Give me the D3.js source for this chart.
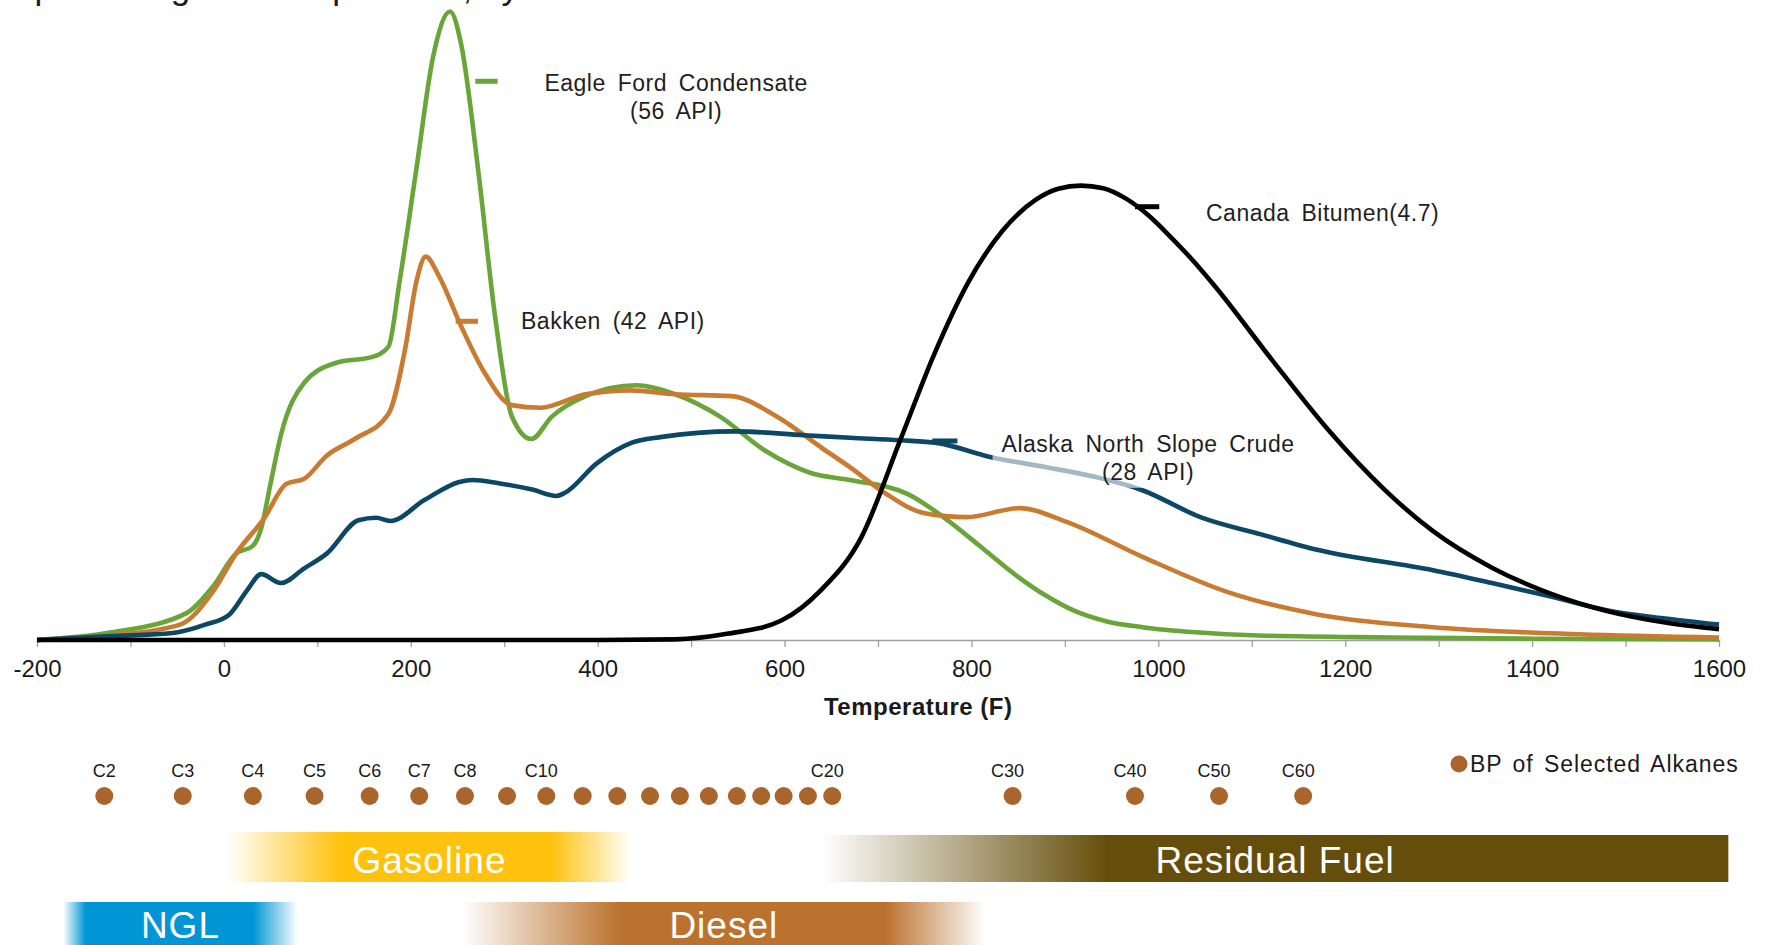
<!DOCTYPE html>
<html>
<head>
<meta charset="utf-8">
<script src="https://cdn.jsdelivr.net/npm/d3@7"></script>
<style>
  body { margin: 0; background: #fff; }
  svg text { font-family: "Liberation Sans", Arial, sans-serif; }
</style>
</head>
<body>
<div class="chart"></div>
<script>
const WIDTH = 1765;
const HEIGHT = 945;
const AXIS_Y = 640;

// temperatures in F, relative amount boiling (0-100, no axis shown)
const eagleFordTemp  = [-200, -120, -40, -11, 13, 31, 40, 50, 61, 86, 122, 158, 176, 188, 206, 224, 242, 254, 272, 290, 308, 329, 351, 387, 441, 483, 531, 579, 628, 670, 732, 770, 808, 845, 880, 908, 945, 983, 1040, 1107, 1250, 1400, 1600];
const eagleFordValue = [0, 1.2, 4.2, 8.5, 13.5, 14.7, 17.5, 24.5, 32, 40.2, 43.4, 44.2, 45.8, 56, 73.6, 91.2, 98.2, 93, 73.6, 50.8, 35, 31.4, 34.9, 38.1, 39.8, 38.4, 34.9, 29.6, 26.1, 25, 22.8, 19.2, 14.8, 10.4, 6.9, 4.7, 2.9, 2.0, 1.2, 0.7, 0.4, 0.2, 0.1];

const bakkenTemp  = [-200, -120, -47, -11, 13, 43, 67, 86, 110, 140, 176, 194, 206, 216, 230, 254, 278, 308, 339, 387, 435, 483, 543, 592, 640, 670, 707, 750, 795, 851, 901, 983, 1076, 1170, 1294, 1450, 1600];
const bakkenValue = [0, 0.7, 2.4, 7.7, 13.5, 19, 24.4, 25.2, 28.8, 31.4, 35.3, 45.5, 56, 59.9, 56.9, 49, 42, 36.7, 36.3, 38.4, 39, 38.4, 38.1, 34.9, 30, 27, 23, 19.8, 19.2, 20.6, 18.5, 13, 7.4, 4.0, 2.0, 0.9, 0.4];

const alaskaTemp  = [-200, -120, -55, -20, 6, 25, 40, 61, 86, 110, 144, 163, 178, 215, 252, 266, 294, 330, 356, 365, 399, 436, 467, 547, 621, 670, 724, 763, 820, 880, 932, 983, 1045, 1110, 1170, 1294, 1357, 1420, 1481, 1540, 1600];
const alaskaValue = [0, 0.6, 1.1, 2.4, 4, 7.8, 10.3, 8.9, 11.2, 13.5, 18.7, 19.1, 18.6, 21.9, 24.7, 25, 24.5, 23.5, 22.5, 23, 27.6, 30.8, 31.7, 32.6, 32, 31.6, 31.2, 30.8, 28.6, 27, 25.5, 23.4, 19.2, 16.5, 14.1, 10.9, 8.9, 6.8, 4.6, 3.4, 2.4];

const bitumenTemp  = [-200, 0, 200, 400, 483, 540, 596, 639, 682, 724, 760, 797, 833, 869, 893, 917, 941, 965, 989, 1013, 1037, 1061, 1122, 1182, 1242, 1294, 1357, 1419, 1481, 1544, 1600];
const bitumenValue = [0, 0, 0, 0, 0.1, 1.0, 3.0, 7.8, 16, 31.3, 44.6, 56, 63.9, 68.8, 70.5, 71, 70.6, 69, 66.4, 63, 59.3, 55.2, 43.7, 32.8, 23.5, 17, 11.3, 7.3, 4.5, 2.7, 1.7];

const axisTicks = [-200, -100, 0, 100, 200, 300, 400, 500, 600, 700, 800, 900, 1000, 1100, 1200, 1300, 1400, 1500, 1600];

const alkaneNames = ['C2', 'C3', 'C4', 'C5', 'C6', 'C7', 'C8', 'C9', 'C10', 'C11', 'C12', 'C13', 'C14', 'C15', 'C16', 'C17', 'C18', 'C19', 'C20', 'C30', 'C40', 'C50', 'C60'];
const alkaneBP    = [-128, -44, 31, 97, 156, 209, 258, 303, 345, 384, 421, 456, 488, 519, 549, 575, 599, 625, 651, 844, 975, 1065, 1155];
const alkaneShown = ['C2', 'C3', 'C4', 'C5', 'C6', 'C7', 'C8', 'C10', 'C20', 'C30', 'C40', 'C50', 'C60'];

// fuel cuts: start, fully coloured from, fully coloured to, end (F)
const bandNames  = ['NGL', 'Gasoline', 'Diesel', 'Residual Fuel'];
const bandRanges = [[-172, -148, 31, 79], [4, 124, 350, 436], [255, 424, 708, 815], [640, 946, 1610, 1610]];

const xScale = d3.scaleLinear().domain([-200, 1600]).range([37, 1719]);
const yScale = d3.scaleLinear().domain([0, 100]).range([AXIS_Y, 0]);

const series = [
    {temp: eagleFordTemp, value: eagleFordValue, color: '#6aa539',
     label: ['Eagle Ford Condensate', '(56 API)'], dash: [269, 293, 87.3], at: [484, 85.8], anchor: 'middle'},
    {temp: bakkenTemp, value: bakkenValue, color: '#c97b31',
     label: ['Bakken (42 API)'], dash: [248, 272, 49.8], at: [318, 48.6], anchor: 'start'},
    {temp: alaskaTemp, value: alaskaValue, color: '#0d4766',
     label: ['Alaska North Slope Crude', '(28 API)'], dash: [758, 785, 31.1], at: [989, 29.4], anchor: 'middle', box: true},
    {temp: bitumenTemp, value: bitumenValue, color: '#000000',
     label: ['Canada Bitumen(4.7)'], dash: [975, 1001, 67.7], at: [1051, 65.5], anchor: 'start'}
];

const bandStyle = [
    {color: '#0096d6', top: 902},
    {color: '#ffc20e', top: 832},
    {color: '#bb722e', top: 902},
    {color: '#654e0b', top: 835}
];

var svg = d3.select('.chart').append('svg')
    .attr('width', WIDTH)
    .attr('height', HEIGHT);

var defs = svg.append('defs');

// cut-off title above the plot
svg.append('text')
    .attr('x', 34.5)
    .attr('y', -1.5)
    .attr('font-size', 35)
    .attr('fill', '#1a1a1a')
    .text('percentage vs. temperature, by crude');

function drawAxis() {
    var axis = d3.axisBottom(xScale)
        .tickValues(axisTicks)
        .tickSize(7)
        .tickPadding(13)
        .tickSizeOuter(0)
        .tickFormat(function (d) { return d % 200 === 0 ? d : ''; });
    var g = svg.append('g').attr('transform', 'translate(0,' + AXIS_Y + ')').call(axis);
    g.select('.domain').attr('stroke', '#a0a0a0').attr('stroke-width', 1.6);
    g.selectAll('.tick line').attr('stroke', '#a0a0a0').attr('stroke-width', 1.3);
    g.selectAll('.tick text').attr('font-size', 24).attr('fill', '#1a1a1a')
        .attr('font-family', '"Liberation Sans", Arial, sans-serif');

    svg.append('text')
        .attr('x', xScale(743))
        .attr('y', 715)
        .attr('text-anchor', 'middle')
        .attr('font-size', 24)
        .attr('font-weight', 'bold')
        .attr('letter-spacing', 0.5)
        .attr('fill', '#1a1a1a')
        .text('Temperature (F)');
}

function drawLines() {
    var g = svg.append('g');
    series.forEach(function (s) {
        var pts = s.temp.map(function (t, i) { return {t: t, v: s.value[i]}; });
        var line = d3.line()
            .x(function (d) { return xScale(d.t); })
            .y(function (d) { return yScale(d.v); })
            .curve(d3.curveMonotoneX);
        g.append('path')
            .attr('d', line(pts))
            .attr('fill', 'none')
            .attr('stroke', s.color)
            .attr('stroke-width', 4.6)
            .attr('stroke-linejoin', 'round');
    });
}

function drawLabels() {
    var g = svg.append('g');
    series.forEach(function (s) {
        g.append('line')
            .attr('x1', xScale(s.dash[0]))
            .attr('x2', xScale(s.dash[1]))
            .attr('y1', yScale(s.dash[2]))
            .attr('y2', yScale(s.dash[2]))
            .attr('stroke', s.color)
            .attr('stroke-width', 5);
        var text = g.append('text')
            .attr('x', xScale(s.at[0]))
            .attr('y', yScale(s.at[1]))
            .attr('text-anchor', s.anchor)
            .attr('font-size', 23)
            .attr('word-spacing', 5)
            .attr('letter-spacing', 0.5)
            .attr('fill', '#1e1e24');
        s.label.forEach(function (l, i) {
            text.append('tspan')
                .attr('x', xScale(s.at[0]))
                .attr('dy', i ? 28 : 0)
                .text(l);
        });
        if (s.box) {
            var bb = text.node().getBBox();
            g.insert('rect', function () { return text.node(); })
                .attr('x', bb.x - 9)
                .attr('y', bb.y - 2)
                .attr('width', bb.width + 18)
                .attr('height', bb.height + 5)
                .attr('fill', '#ffffff')
                .attr('opacity', 0.62);
        }
    });
}

function drawAlkanes() {
    var g = svg.append('g');
    g.selectAll('circle').data(alkaneBP).enter().append('circle')
        .attr('cx', function (d) { return xScale(d); })
        .attr('cy', 796)
        .attr('r', 9)
        .attr('fill', '#a9652b');
    g.selectAll('text').data(alkaneNames).enter().append('text')
        .attr('x', function (d, i) { return xScale(alkaneBP[i]) - (d.length > 2 ? 5 : 0); })
        .attr('y', 777)
        .attr('text-anchor', 'middle')
        .attr('font-size', 18)
        .attr('fill', '#1a1a1a')
        .text(function (d) { return alkaneShown.indexOf(d) >= 0 ? d : ''; });

    g.append('circle')
        .attr('cx', 1459)
        .attr('cy', 764)
        .attr('r', 8.5)
        .attr('fill', '#a9652b');
    g.append('text')
        .attr('x', 1470)
        .attr('y', 772)
        .attr('font-size', 23)
        .attr('word-spacing', 3)
        .attr('letter-spacing', 0.95)
        .attr('fill', '#1a1a1a')
        .text('BP of Selected Alkanes');
}

function drawBands() {
    var g = svg.append('g');
    bandNames.forEach(function (name, i) {
        var r = bandRanges[i];
        var st = bandStyle[i];
        var x0 = xScale(r[0]), x3 = xScale(r[3]);
        var span = x3 - x0;
        var grad = defs.append('linearGradient')
            .attr('id', 'band' + i)
            .attr('gradientUnits', 'userSpaceOnUse')
            .attr('x1', x0).attr('x2', x3)
            .attr('y1', 0).attr('y2', 0);
        [[0, 0], [(xScale(r[1]) - x0) / span, 1], [(xScale(r[2]) - x0) / span, 1], [1, r[2] < r[3] ? 0 : 1]]
            .forEach(function (s) {
                grad.append('stop')
                    .attr('offset', s[0])
                    .attr('stop-color', st.color)
                    .attr('stop-opacity', s[1]);
            });
        var bottom = st.top < 880 ? 882 : 955;
        g.append('rect')
            .attr('x', x0)
            .attr('y', st.top)
            .attr('width', span)
            .attr('height', bottom - st.top)
            .attr('fill', 'url(#band' + i + ')');
        g.append('text')
            .attr('x', (x0 + x3) / 2)
            .attr('y', st.top < 880 ? 873 : 938)
            .attr('text-anchor', 'middle')
            .attr('font-size', 37)
            .attr('letter-spacing', 1)
            .attr('fill', '#ffffff')
            .text(name);
    });
}

drawBands();
drawAxis();
drawLines();
drawLabels();
drawAlkanes();
</script>
</body>
</html>
